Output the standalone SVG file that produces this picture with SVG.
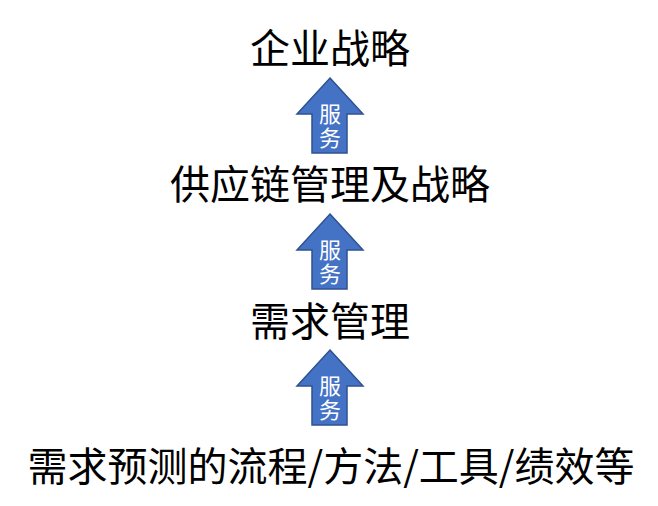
<svg xmlns="http://www.w3.org/2000/svg" width="658" height="506" viewBox="0 0 658 506">
<style>
.t{font-family:"Microsoft YaHei","Noto Sans CJK SC","Noto Sans",sans-serif;font-size:40px;fill:#000;text-anchor:middle}
.a{fill:#4472C4;stroke:#2F528F;stroke-width:1.5}
.s{font-family:"Microsoft YaHei","Noto Sans CJK SC",sans-serif;font-size:22px;fill:#fff;writing-mode:vertical-rl;letter-spacing:2px}
</style>
<defs>
<path id="arr" d="M0 0 L33 36 L17 36 L17 75 L-18 75 L-18 36 L-33 36 Z"/>
</defs>
<rect width="658" height="506" fill="#fff"/>
<g id="n1"><text class="t" x="330" y="63">企业战略</text></g>
<g id="n2"><text class="t" x="330" y="199">供应链管理及战略</text></g>
<g id="n3"><text class="t" x="330" y="336">需求管理</text></g>
<g id="n4"><text class="t" x="331" y="481">需求预测的流程/方法/工具/绩效等</text></g>
<g id="connectors">
<g transform="translate(330,78)"><use href="#arr" class="a"/><text class="s" x="0" y="25">服务</text></g>
<g transform="translate(330,214)"><use href="#arr" class="a"/><text class="s" x="0" y="25">服务</text></g>
<g transform="translate(330,350)"><use href="#arr" class="a"/><text class="s" x="0" y="25">服务</text></g>
</g>
</svg>
